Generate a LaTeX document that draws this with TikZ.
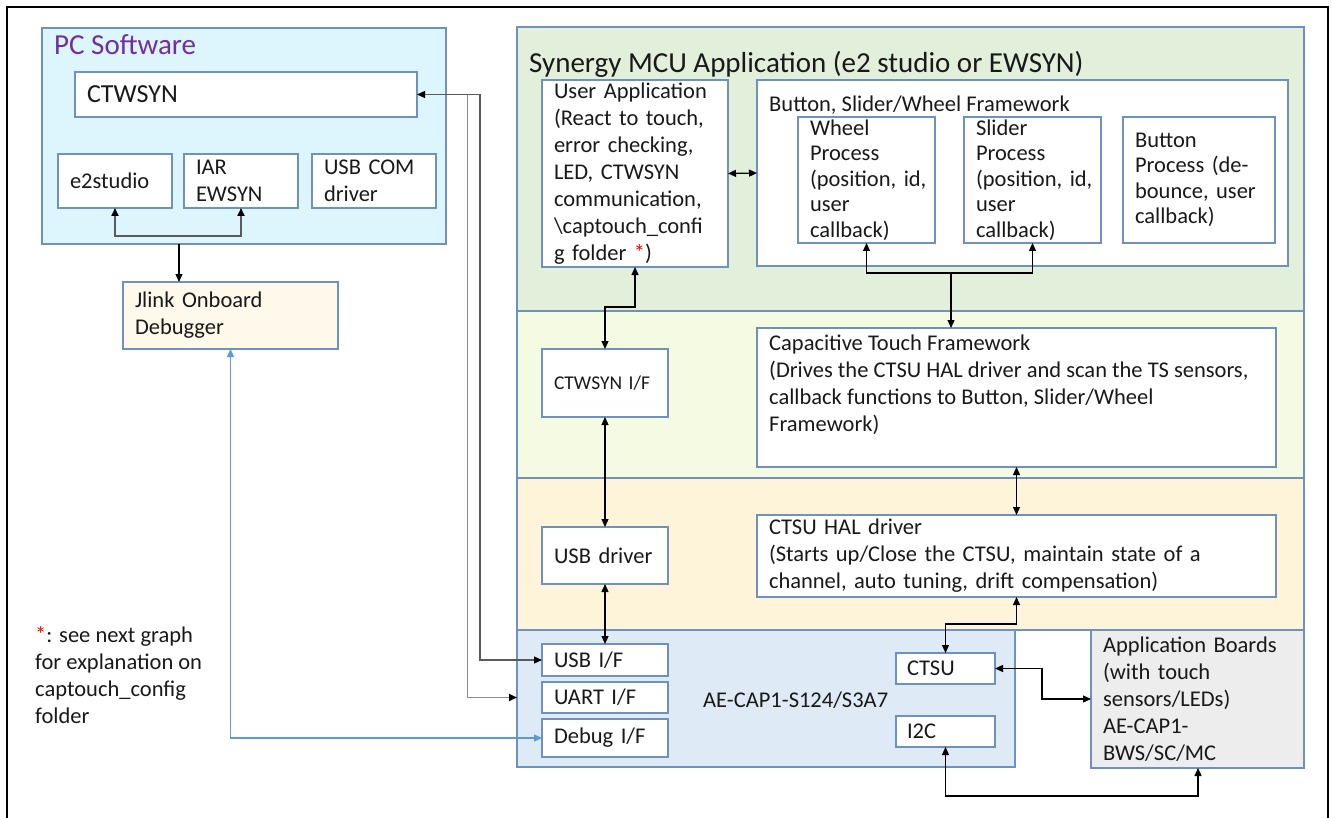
\documentclass[tikz,border=0pt]{standalone}
\usepackage{fontspec}
\setmainfont{Carlito}
\usetikzlibrary{arrows.meta}
\definecolor{bcol}{RGB}{110,145,190}
\definecolor{txt}{RGB}{25,25,25}
\definecolor{pcfill}{RGB}{221,245,252}
\definecolor{pctitle}{RGB}{112,48,160}
\definecolor{jfill}{RGB}{255,249,235}
\definecolor{synfill}{RGB}{226,239,218}
\definecolor{l2fill}{RGB}{245,250,227}
\definecolor{l3fill}{RGB}{253,244,217}
\definecolor{aefill}{RGB}{222,234,246}
\definecolor{abfill}{RGB}{237,237,237}
\definecolor{bluec}{RGB}{91,155,213}
\definecolor{busa}{RGB}{90,90,90}
\definecolor{busb}{RGB}{140,140,140}
\newcommand\fs{\fontsize{22.5}{27}\selectfont}
\newcommand\fss{\fontsize{22.5}{25.5}\selectfont}
\newcommand\fbig{\fontsize{26}{31}\selectfont}
\newcommand\fsmall{\fontsize{19.5}{23}\selectfont}
\newcommand\ftitle{\fontsize{29}{35}\selectfont}
\tikzset{
  T/.tip={Triangle[length=8pt,width=7pt]},
  Tb/.tip={Triangle[length=8pt,width=7pt,color=black]},
  bx/.style={draw=bcol,line width=1.2pt,fill=white,anchor=north west,inner xsep=12pt,inner ysep=0pt,outer sep=0pt,align=left,font=\fs,text=txt},
  area/.style={draw=bcol,line width=1.2pt,anchor=north west,inner sep=0pt,outer sep=0pt},
  con/.style={line width=1.2pt,draw=black},
  lbl/.style={inner sep=0pt,font=\fs,text=txt},
}
\begin{document}
\begin{tikzpicture}[x=1pt,y=-1pt]
\useasboundingbox (0,0) rectangle (1332,818);
% frame
\draw[line width=2pt] (7,818) -- (7,7) -- (1328,7) -- (1328,818);
% containers
\node[area,fill=pcfill,minimum width=404pt,minimum height=216pt] (pc) at (42,28) {};
\node[area,fill=synfill,minimum width=787pt,minimum height=284pt] (syn) at (517,27) {};
\node[area,fill=l2fill,minimum width=787pt,minimum height=167pt] (lay2) at (517,311) {};
\node[area,fill=l3fill,minimum width=787pt,minimum height=152pt] (lay3) at (517,478) {};
\node[area,fill=aefill,minimum width=498pt,minimum height=137pt] (ae) at (517,630) {};
\node[bx,fill=abfill,minimum width=213pt,minimum height=138pt,text width=189pt] (appb) at (1091,630) {Application Boards\\(with touch\\sensors/LEDs)\\AE-CAP1-\\BWS/SC/MC};
% titles
\node[lbl,anchor=base west,font=\ftitle,text=pctitle] (pctitle) at (54,55) {PC Software};
\node[lbl,anchor=base west,font=\ftitle] (syntitle) at (529,73) {Synergy MCU Application (e2 studio or EWSYN)};
% PC boxes
\node[bx,font=\fbig,minimum width=342pt,minimum height=45pt,text width=318pt] (ctw) at (75,72) {CTWSYN};
\node[bx,minimum width=114pt,minimum height=54pt,text width=90pt] (e2) at (58,154) {e2studio};
\node[bx,minimum width=114pt,minimum height=54pt,text width=90pt] (iar) at (184,154) {IAR\\EWSYN};
\node[bx,minimum width=124pt,minimum height=54pt,text width=100pt] (usbcom) at (312,154) {USB COM\\driver};
\node[bx,fill=jfill,minimum width=215pt,minimum height=67pt,text width=191pt] (jlink) at (123,282) {Jlink Onboard\\Debugger};
% MCU application
\node[bx,minimum width=186pt,minimum height=187pt,text width=162pt] (ua) at (542,80) {User Application\\(React to touch,\\error checking,\\LED, CTWSYN\\communication,\\\textbackslash captouch\_confi\\g folder {\color{red}*})};
\node[bx,minimum width=531pt,minimum height=186pt] (bsf) at (757,80) {};
\node[lbl,anchor=base west] (bsftitle) at (769,112) {Button, Slider/Wheel Framework};
\node[bx,font=\fss,minimum width=137pt,minimum height=126pt,text width=113pt] (wheel) at (798,117) {Wheel\\Process\\\mbox{(position, id,}\\user\\callback)};
\node[bx,font=\fss,minimum width=137pt,minimum height=126pt,text width=113pt] (slider) at (964,117) {Slider\\Process\\\mbox{(position, id,}\\user\\callback)};
\node[bx,font=\fss,minimum width=152pt,minimum height=126pt,text width=128pt] (button) at (1123,117) {Button\\\mbox{Process (de-}\\\mbox{bounce, user}\\callback)};
% layer 2
\node[bx,font=\fsmall,minimum width=126pt,minimum height=68pt,text width=102pt] (ctwif) at (542,349) {CTWSYN I/F};
\node[bx,minimum width=519pt,minimum height=139pt] (ctf) at (757,328) {};
\node[lbl,anchor=north west,align=left] (ctftext) at (769,331) {\strut Capacitive Touch Framework\\(Drives the CTSU HAL driver and scan the TS sensors,\\callback functions to Button, Slider/Wheel\\Framework)};
% layer 3
\node[bx,minimum width=126pt,minimum height=57pt,text width=102pt] (usbdrv) at (542,527) {USB driver};
\node[bx,minimum width=519pt,minimum height=82pt,text width=495pt] (hal) at (757,515) {CTSU HAL driver\\(Starts up/Close the CTSU, maintain state of a\\channel, auto tuning, drift compensation)};
% layer 4
\node[bx,minimum width=126pt,minimum height=32pt,text width=102pt] (usbif) at (542,644) {USB I/F};
\node[bx,minimum width=126pt,minimum height=31pt,text width=102pt] (uart) at (542,682) {UART I/F};
\node[bx,minimum width=126pt,minimum height=38pt,text width=102pt] (dbg) at (542,719) {Debug I/F};
\node[lbl,anchor=west] (aelabel) at (703,700) {AE-CAP1-S124/S3A7};
\node[bx,inner xsep=11pt,minimum width=99pt,minimum height=31pt,text width=77pt] (ctsu) at (896,653) {CTSU};
\node[bx,inner xsep=11pt,minimum width=99pt,minimum height=31pt,text width=77pt] (i2c) at (896,716) {I2C};
% footnote
\node[lbl,anchor=north west,align=left] (note) at (35,623) {\strut{\color{red}*}: see next graph\\for explanation on\\captouch\_config\\folder};
% connectors
\coordinate (b1) at (480,94.5);
\coordinate (b2) at (467.5,94.5);
\draw[con,draw=busb,line width=1.8pt,-Tb] (b2) |- (uart.west -| ae.west);
\draw[con,draw=busa,Tb-Tb] (ctw.east) -- (b1) |- (usbif.west);
\draw[con,draw=bluec,T-T] (jlink.south) |- (dbg.west);
\coordinate (pcj) at (179,244);
\draw[con,-T] (pcj) -- (pcj |- jlink.north);
\draw[con,draw=busa,line width=1.8pt,Tb-Tb] (e2.south) -- ++(0,28) -| (iar.south);
\draw[con,T-T] (ua.east) -- (bsf.west);
\coordinate (j1) at (951,273);
\draw[con,T-T] (wheel.south) |- (j1) -| (slider.south);
\draw[con,-T] (j1) -- (j1 |- ctf.north);
\draw[con,T-T] (ua.south) -- ++(0,40) -| (ctwif.north);
\draw[con,T-T] (ctwif.south) -- (usbdrv.north);
\draw[con,T-T] (usbdrv.south) -- (usbif.north);
\draw[con,T-T] (ctf.south) -- (hal.north);
\draw[con,T-T] (hal.south) -- ++(0,27) -| (ctsu.north);
\draw[con,T-T] (ctsu.east) -- ++(47,0) |- (appb.west);
\coordinate (abs) at (1198,768);
\draw[con,T-T] (i2c.south) -- ++(0,49) -| (abs);
\end{tikzpicture}
\end{document}
